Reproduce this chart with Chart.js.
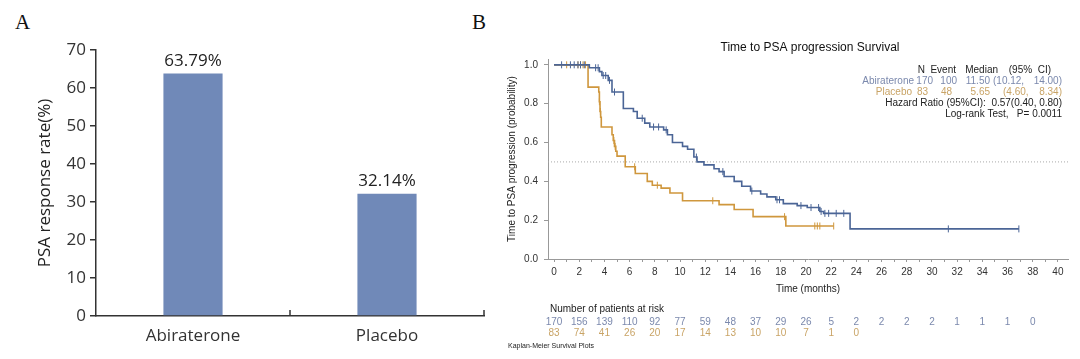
<!DOCTYPE html>
<html>
<head>
<meta charset="utf-8">
<script src="https://cdn.jsdelivr.net/npm/chart.js@4.4.0/dist/chart.umd.min.js"></script>
<style>
  body { margin: 0; background: #fff; width: 1080px; height: 359px; overflow: hidden; position: relative; }
  #wrapA { position: absolute; left: 0; top: 0; width: 490px; height: 359px; }
  #wrapB { position: absolute; left: 490px; top: 0; width: 590px; height: 359px; }
  .panel { position: absolute; font-family: "Liberation Serif", serif; font-size: 21px; line-height: 1; color: #111; }
</style>
</head>
<body>
<div class="panel" style="left:15px; top:12px;">A</div>
<div class="panel" style="left:472px; top:12px;">B</div>
<div id="wrapA"><canvas id="barChart" width="490" height="359"></canvas></div>
<div id="wrapB"><canvas id="kmChart" width="590" height="359"></canvas></div>
<script>
// Panel A: PSA response rate
const barCategories = ["Abiraterone", "Placebo"];
const barValues = [63.79, 32.14];
const barLabels = ["63.79%", "32.14%"];

// Panel B: Kaplan-Meier steps (time in months, survival after step)
const abiTime = [0, 2.8, 3.6, 3.8, 4.3, 4.6, 5.5, 6.3, 6.6, 7.2, 7.6, 8.7, 9.0, 9.4, 10.2, 10.6, 11.1, 11.35, 11.9, 12.7, 13.1, 13.5, 14.3, 14.9, 15.6, 16.4, 16.9, 17.6, 18.2, 19.3, 20.1, 21.1, 21.4, 23.5, 36.9];
const abiSurv = [1.0, 0.985, 0.965, 0.945, 0.92, 0.86, 0.775, 0.76, 0.725, 0.70, 0.68, 0.665, 0.64, 0.60, 0.58, 0.565, 0.525, 0.50, 0.485, 0.465, 0.45, 0.425, 0.40, 0.375, 0.35, 0.335, 0.32, 0.305, 0.285, 0.275, 0.265, 0.245, 0.235, 0.155, 0.155];
const plaTime = [0, 2.7, 3.55, 3.6, 3.65, 3.7, 3.75, 4.6, 4.7, 4.8, 4.9, 5.0, 5.65, 6.45, 7.4, 7.8, 8.5, 9.2, 10.2, 13.1, 14.3, 15.8, 18.4, 22.2];
const plaSurv = [1.0, 0.885, 0.86, 0.81, 0.76, 0.73, 0.68, 0.64, 0.61, 0.58, 0.555, 0.53, 0.475, 0.44, 0.40, 0.38, 0.365, 0.34, 0.30, 0.28, 0.255, 0.218, 0.17, 0.17];

// censored observations (months)
const abiCensor = [0.6, 1.3, 1.6, 1.9, 2.1, 2.4, 3.3, 3.5, 3.9, 4.1, 4.4, 4.8, 7.0, 7.9, 8.3, 8.9, 11.3, 13.4, 15.7, 17.7, 17.9, 19.6, 20.4, 21.0, 21.2, 21.5, 21.8, 22.4, 23.0, 31.3, 36.9];
const plaCensor = [1.0, 1.9, 2.1, 2.3, 2.5, 3.6, 3.68, 4.75, 4.85, 6.4, 8.2, 12.6, 18.3, 20.7, 20.9, 21.1, 22.2];

// number at risk
const riskTimes = [0, 2, 4, 6, 8, 10, 12, 14, 16, 18, 20, 22, 24, 26, 28, 30, 32, 34, 36, 38];
const abiRisk = [170, 156, 139, 110, 92, 77, 59, 48, 37, 29, 26, 5, 2, 2, 2, 2, 1, 1, 1, 0];
const plaRisk = [83, 74, 41, 26, 20, 17, 14, 13, 10, 10, 7, 1, 0];

const BAR_COLOR = "#7089b8";
const ABI_COLOR = "#4b6596";
const PLA_COLOR = "#cf973d";
const ABI_TEXT = "#7b89ad";
const PLA_TEXT = "#c9a466";
const KM_FONT = '"Liberation Sans", Arial, sans-serif';
const BAR_FONT = '"Open Sans", sans-serif';

function survAt(times, surv, t) {
    let s = surv[0];
    for (let i = 0; i < times.length; i++) {
        if (times[i] <= t) s = surv[i];
    }
    return s;
}

function toPoints(times, surv) {
    return times.map((t, i) => ({ x: t, y: surv[i] }));
}

function censorPoints(censor, times, surv) {
    return censor.map(t => ({ x: t, y: survAt(times, surv, t) }));
}

// ---------- Panel A ----------
const barLabelPlugin = {
    id: 'barLabels',
    afterDatasetsDraw(chart) {
        const ctx = chart.ctx;
        const meta = chart.getDatasetMeta(0);
        const xs = chart.scales.x;
        ctx.save();
        ctx.fillStyle = '#222';
        ctx.font = '17px ' + BAR_FONT;
        ctx.textAlign = 'center';
        ctx.textBaseline = 'bottom';
        meta.data.forEach((bar, i) => {
            ctx.fillText(barLabels[i], bar.x, bar.y - 4);
        });
        // small tick marks between categories (pointing up)
        ctx.strokeStyle = '#333';
        ctx.lineWidth = 1.5;
        const bottom = chart.chartArea.bottom;
        for (let i = 0; i < barCategories.length; i++) {
            const xb = i < barCategories.length - 1
                ? (xs.getPixelForValue(i) + xs.getPixelForValue(i + 1)) / 2
                : chart.chartArea.right;
            ctx.beginPath();
            ctx.moveTo(xb, bottom);
            ctx.lineTo(xb, bottom - 6);
            ctx.stroke();
        }
        ctx.restore();
    }
};

new Chart(document.getElementById("barChart").getContext("2d"), {
    type: 'bar',
    data: {
        labels: barCategories,
        datasets: [{
            data: barValues,
            backgroundColor: BAR_COLOR,
            borderWidth: 0,
            categoryPercentage: 1,
            barPercentage: 0.305
        }]
    },
    options: {
        responsive: false,
        animation: false,
        layout: { padding: { top: 50, right: 6, left: 0, bottom: 0 } },
        plugins: { legend: { display: false }, tooltip: { enabled: false } },
        scales: {
            x: {
                afterFit: scale => { scale.height = 43; },
                grid: { display: false },
                border: { color: '#333', width: 1.5 },
                ticks: { color: '#333', padding: 2, font: { family: BAR_FONT, size: 17 } }
            },
            y: {
                min: 0,
                max: 70,
                afterFit: scale => { scale.width = 96; },
                ticks: { stepSize: 10, color: '#333', padding: 4, font: { family: BAR_FONT, size: 17 } },
                grid: { drawOnChartArea: false, tickLength: 6, color: '#333', lineWidth: 1.5 },
                border: { color: '#333', width: 1.5 },
                title: {
                    display: true,
                    text: 'PSA response rate(%)',
                    color: '#222',
                    padding: { top: 35, bottom: 0 },
                    font: { family: BAR_FONT, size: 17 }
                }
            }
        }
    },
    plugins: [barLabelPlugin]
});

// ---------- Panel B ----------
const kmTextPlugin = {
    id: 'kmText',
    beforeDatasetsDraw(chart) {
        const ctx = chart.ctx;
        const y = chart.scales.y.getPixelForValue(0.5);
        ctx.save();
        ctx.strokeStyle = '#aaa';
        ctx.lineWidth = 1;
        ctx.setLineDash([1, 2]);
        ctx.beginPath();
        ctx.moveTo(chart.chartArea.left, y);
        ctx.lineTo(chart.chartArea.right, y);
        ctx.stroke();
        ctx.restore();
    },
    afterDraw(chart) {
        const ctx = chart.ctx;
        const xs = chart.scales.x;
        const off = 490; // canvas starts at page x 490
        ctx.save();
        ctx.textBaseline = 'middle';

        // title
        ctx.fillStyle = '#111';
        ctx.font = '12px ' + KM_FONT;
        ctx.textAlign = 'center';
        ctx.fillText('Time to PSA progression Survival', 810 - off, 48);

        // summary table
        ctx.font = '10px ' + KM_FONT;
        const put = (txt, x, y, align, color) => {
            ctx.fillStyle = color;
            ctx.textAlign = align;
            ctx.fillText(txt, x - off, y);
        };
        put('N', 925, 70, 'right', '#222');
        put('Event', 956, 70, 'right', '#222');
        put('Median', 998, 70, 'right', '#222');
        put('(95%  CI)', 1051, 70, 'right', '#222');

        put('Abiraterone', 914, 81, 'right', ABI_TEXT);
        put('170', 933, 81, 'right', ABI_TEXT);
        put('100', 957, 81, 'right', ABI_TEXT);
        put('11.50', 990, 81, 'right', ABI_TEXT);
        put('(10.12,', 993, 81, 'left', ABI_TEXT);
        put('14.00)', 1062, 81, 'right', ABI_TEXT);

        put('Placebo', 912, 92, 'right', PLA_TEXT);
        put('83', 928, 92, 'right', PLA_TEXT);
        put('48', 952, 92, 'right', PLA_TEXT);
        put('5.65', 990, 92, 'right', PLA_TEXT);
        put('(4.60,', 1003, 92, 'left', PLA_TEXT);
        put('8.34)', 1062, 92, 'right', PLA_TEXT);

        put('Hazard Ratio (95%CI):  0.57(0.40, 0.80)', 1062, 103, 'right', '#222');
        put('Log-rank Test,   P= 0.0011', 1062, 114, 'right', '#222');

        // number at risk
        put('Number of patients at risk', 550, 309, 'left', '#222');
        ctx.textAlign = 'center';
        ctx.fillStyle = ABI_TEXT;
        abiRisk.forEach((n, i) => ctx.fillText(String(n), xs.getPixelForValue(riskTimes[i]), 322));
        ctx.fillStyle = PLA_TEXT;
        plaRisk.forEach((n, i) => ctx.fillText(String(n), xs.getPixelForValue(riskTimes[i]), 333));

        ctx.font = '7px ' + KM_FONT;
        put('Kaplan-Meier Survival Plots', 508, 346, 'left', '#222');
        ctx.restore();
    }
};

new Chart(document.getElementById("kmChart").getContext("2d"), {
    type: 'scatter',
    data: {
        datasets: [
            {
                label: 'Abiraterone',
                data: toPoints(abiTime, abiSurv),
                showLine: true,
                stepped: 'before',
                borderColor: ABI_COLOR,
                borderWidth: 1.6,
                pointRadius: 0
            },
            {
                label: 'Placebo',
                data: toPoints(plaTime, plaSurv),
                showLine: true,
                stepped: 'before',
                borderColor: PLA_COLOR,
                borderWidth: 1.6,
                pointRadius: 0
            },
            {
                label: 'Abiraterone censored',
                data: censorPoints(abiCensor, abiTime, abiSurv),
                showLine: false,
                pointStyle: 'line',
                rotation: 90,
                pointRadius: 3.5,
                borderColor: ABI_COLOR,
                borderWidth: 1
            },
            {
                label: 'Placebo censored',
                data: censorPoints(plaCensor, plaTime, plaSurv),
                showLine: false,
                pointStyle: 'line',
                rotation: 90,
                pointRadius: 3.5,
                borderColor: PLA_COLOR,
                borderWidth: 1
            }
        ]
    },
    options: {
        responsive: false,
        animation: false,
        layout: { padding: { top: 59, right: 12, left: 0, bottom: 64 } },
        plugins: { legend: { display: false }, tooltip: { enabled: false } },
        scales: {
            x: {
                type: 'linear',
                min: -0.48,
                max: 40.8,
                afterFit: scale => { scale.height = 36; },
                grid: { drawOnChartArea: false, tickLength: 3, color: '#999' },
                border: { color: '#999' },
                ticks: {
                    stepSize: 1,
                    includeBounds: false,
                    autoSkip: false,
                    maxRotation: 0,
                    padding: 4,
                    color: '#333',
                    font: { family: KM_FONT, size: 10 },
                    callback: v => (v % 2 === 0 ? String(v) : '')
                },
                title: {
                    display: true,
                    text: 'Time (months)',
                    color: '#222',
                    padding: { top: 0, bottom: 0 },
                    font: { family: KM_FONT, size: 10 }
                }
            },
            y: {
                min: 0,
                max: 1.03,
                afterFit: scale => { scale.width = 58; },
                grid: { drawOnChartArea: false, tickLength: 4, color: '#999' },
                border: { color: '#999' },
                ticks: {
                    stepSize: 0.2,
                    includeBounds: false,
                    padding: 6,
                    color: '#333',
                    font: { family: KM_FONT, size: 10 },
                    callback: v => v.toFixed(1)
                },
                title: {
                    display: true,
                    text: 'Time to PSA progression (probability)',
                    color: '#222',
                    padding: { top: 16, bottom: 0 },
                    font: { family: KM_FONT, size: 10 }
                }
            }
        }
    },
    plugins: [kmTextPlugin]
});
</script>
</body>
</html>
